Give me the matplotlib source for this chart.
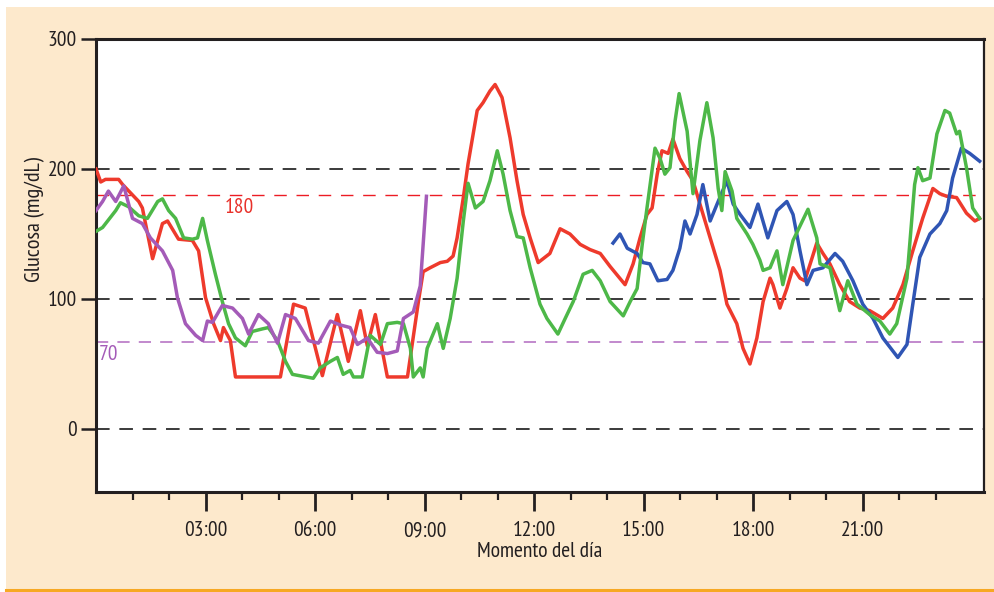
import matplotlib
matplotlib.use("Agg")
import matplotlib.pyplot as plt
from matplotlib.patches import Rectangle
from matplotlib.lines import Line2D

plt.rcParams['font.family'] = ['PT Sans Narrow', 'DejaVu Sans']

# glucose traces, hours vs mg/dL
red_t = [0.0, 0.13, 0.26, 0.62, 0.73, 1.17, 1.27, 1.55, 1.82, 1.96, 2.26, 2.64, 2.81, 3.0, 3.22,
         3.41, 3.49, 3.68, 3.82, 5.05, 5.41, 5.73, 6.20, 6.61, 6.91, 7.24, 7.43, 7.65, 7.98, 8.53,
         8.83, 8.96, 9.15, 9.43, 9.62, 9.78, 9.89, 10.06, 10.19, 10.44, 10.60, 10.79, 10.93, 11.12,
         11.34, 11.53, 11.70, 11.89, 12.11, 12.43, 12.71, 12.98, 13.26, 13.53, 13.81, 14.08, 14.49,
         14.71, 14.90, 15.09, 15.23, 15.37, 15.50, 15.67, 15.80, 15.99, 16.19, 16.35, 16.54, 16.82,
         17.09, 17.28, 17.55, 17.72, 17.91, 18.10, 18.27, 18.46, 18.54, 18.73, 18.92, 19.09, 19.28,
         19.41, 19.56, 19.74, 19.91, 20.10, 20.37, 20.64, 20.92, 21.19, 21.55, 21.82, 22.10, 22.37,
         22.64, 22.92, 23.11, 23.30, 23.57, 23.84, 24.07, 24.2]
red_v = [200, 190, 192, 192, 188, 175, 170, 131, 158, 160, 146, 145, 137, 101, 81,
         68, 78, 68, 40, 40, 96, 93, 41, 88, 52, 91, 64, 88, 40, 40,
         98, 121, 124, 128, 129, 133, 147, 178, 204, 245, 251, 260, 265, 255,
         224, 191, 165, 147, 128, 135, 154, 150, 142, 138, 135, 125, 111,
         127, 147, 165, 170, 196, 214, 212, 223, 208, 198, 191, 173, 147,
         122, 96, 81, 62, 50, 70, 98, 116, 111, 93, 108, 124, 116,
         114, 127, 143, 135, 127, 111, 98, 93, 91, 85, 93, 111, 137,
         162, 185, 181, 179, 178, 166, 160, 162]

green_t = [0.0, 0.18, 0.54, 0.67, 0.89, 1.17, 1.41, 1.69, 1.82, 1.99, 2.18, 2.40, 2.64, 2.78, 2.92,
           3.05, 3.27, 3.46, 3.63, 3.82, 4.09, 4.28, 4.56, 4.72, 4.97, 5.19, 5.38, 5.95, 6.14, 6.42,
           6.61, 6.77, 6.96, 7.05, 7.29, 7.51, 7.79, 7.98, 8.25, 8.42, 8.61, 8.69, 8.88, 8.96, 9.07,
           9.35, 9.51, 9.70, 9.89, 10.06, 10.19, 10.39, 10.60, 10.79, 10.99, 11.15, 11.34, 11.53,
           11.70, 11.89, 12.16, 12.35, 12.65, 12.85, 13.07, 13.34, 13.59, 13.81, 14.08, 14.44, 14.63,
           14.82, 14.96, 15.09, 15.31, 15.45, 15.58, 15.72, 15.86, 15.97, 16.19, 16.35, 16.54, 16.73,
           16.90, 17.04, 17.14, 17.23, 17.42, 17.55, 17.83, 17.99, 18.18, 18.27, 18.46, 18.65, 18.81,
           19.09, 19.50, 19.74, 19.83, 20.10, 20.37, 20.59, 20.84, 21.19, 21.47, 21.74, 21.93, 22.21,
           22.42, 22.51, 22.64, 22.84, 23.03, 23.25, 23.38, 23.57, 23.65, 23.84, 24.01, 24.2]
green_v = [152, 155, 168, 174, 171, 164, 162, 175, 177, 168, 162, 147, 146, 147, 162,
           145, 119, 98, 81, 70, 64, 75, 77, 78, 68, 52, 42, 39, 47, 52,
           55, 42, 45, 40, 40, 72, 65, 81, 82, 81, 62, 40, 47, 40, 62,
           81, 62, 85, 116, 160, 189, 170, 175, 191, 214, 196, 168, 148,
           147, 124, 96, 85, 73, 85, 98, 119, 122, 114, 98, 87, 98,
           108, 142, 170, 216, 208, 196, 201, 237, 258, 229, 181, 222, 251,
           224, 185, 168, 198, 183, 162, 150, 142, 130, 122, 124, 137, 111,
           145, 169, 147, 127, 124, 91, 114, 96, 88, 83, 73, 81, 116,
           188, 201, 191, 193, 227, 245, 243, 227, 229, 201, 170, 162]

purple_t = [0.0, 0.18, 0.34, 0.54, 0.76, 1.0, 1.27, 1.49, 1.82, 2.10, 2.23, 2.45, 2.73, 2.92, 3.05,
            3.19, 3.46, 3.74, 4.01, 4.18, 4.45, 4.72, 4.97, 5.19, 5.46, 5.82, 6.09, 6.42, 6.69,
            6.96, 7.16, 7.43, 7.70, 7.98, 8.25, 8.42, 8.69, 8.88, 8.96, 9.05]
purple_v = [168, 175, 183, 175, 187, 162, 158, 147, 137, 122, 101, 81, 72, 68, 83,
            82, 95, 93, 85, 73, 88, 81, 66, 88, 85, 68, 66, 83, 80,
            78, 65, 70, 59, 58, 60, 85, 90, 110, 142, 179]

blue_t = [14.16, 14.35, 14.55, 14.82, 14.98, 15.17, 15.39, 15.64, 15.80, 15.99, 16.13, 16.27, 16.46,
          16.62, 16.82, 17.01, 17.28, 17.45, 17.64, 17.91, 18.13, 18.40, 18.65, 18.92, 19.09, 19.28,
          19.47, 19.64, 19.91, 20.24, 20.45, 20.73, 21.00, 21.28, 21.55, 21.96, 22.21, 22.37, 22.56,
          22.84, 23.11, 23.30, 23.46, 23.70, 23.93, 24.2]
blue_v = [143, 150, 139, 135, 128, 127, 114, 115, 122, 139, 160, 150, 165,
          188, 160, 173, 191, 173, 165, 155, 173, 147, 168, 175, 165, 137,
          111, 122, 124, 135, 129, 114, 96, 85, 70, 55, 65, 96, 132,
          150, 158, 168, 193, 216, 212, 206]

ref_lines = [0, 100, 200]
hi_limit, lo_limit = 180, 67
x_ticks = [3, 6, 9, 12, 15, 18, 21]
x_labels = ['03:00', '06:00', '09:00', '12:00', '15:00', '18:00', '21:00']

W, H = 994, 592
fs = 15.5
fig = plt.figure(figsize=(W / 100, H / 100), dpi=100)
fig.patch.set_facecolor('#fde9cc')
# white margins and orange rule of the box
fig.patches.append(Rectangle((0, 1 - 7 / H), 1, 7 / H, transform=fig.transFigure,
                             facecolor='white', edgecolor='none', zorder=0))
fig.patches.append(Rectangle((0, 0), 6 / W, 1, transform=fig.transFigure,
                             facecolor='white', edgecolor='none', zorder=0))
fig.lines.append(Line2D([6 / W, 1], [1 - 590 / H] * 2, transform=fig.transFigure,
                        color='#f7a823', lw=2.2))

ax = fig.add_axes([96 / W, (H - 492) / H, (984 - 96) / W, (492 - 39) / H])
ax.set_facecolor('white')

for y in ref_lines:
    ax.axhline(y, color='#3a3a3a', lw=1.4, dashes=(7, 5), zorder=1)
ax.axhline(hi_limit, color='#ec1c24', lw=1.0, dashes=(9, 7), zorder=1)
ax.axhline(lo_limit, color='#b169c0', lw=1.1, dashes=(8, 6), zorder=1)

lw = 2.5
ax.plot(red_t, red_v, color='#ee3a2c', lw=lw, zorder=3)
ax.plot(green_t, green_v, color='#4db848', lw=lw, zorder=4)
ax.plot(purple_t, purple_v, color='#a45bb8', lw=lw, zorder=5)
ax.plot(blue_t, blue_v, color='#2f55b4', lw=lw, zorder=3)

ax.text(3.92, 170, '180', color='#e8312a', fontsize=fs, ha='center', va='center')
ax.text(0.35, 57, '70', color='#a45bb8', fontsize=fs, ha='center', va='center')

ax.set_xlim(0, 24.32)
ax.set_ylim(-48.5, 300)
ax.set_yticks([0, 100, 200, 300])
ax.set_xticks(x_ticks)
ax.set_xticklabels(x_labels)
ax.set_xticks([h for h in range(1, 24) if h % 3], minor=True)

for side in ['left', 'bottom', 'top']:
    ax.spines[side].set_linewidth(2.2)
ax.spines['right'].set_linewidth(1.6)
for s in ax.spines.values():
    s.set_color('#231f20')

ax.tick_params(axis='y', length=11, width=1.8, pad=3, labelsize=fs,
               color='#231f20', labelcolor='#231f20')
ax.tick_params(axis='x', which='major', length=14, width=2, pad=7, labelsize=fs,
               color='#231f20', labelcolor='#231f20')
ax.tick_params(axis='x', which='minor', length=6, width=1.6, color='#231f20')
ax.tick_params(axis='x', top=False)

ax.set_xlabel('Momento del día', fontsize=fs, labelpad=1, color='#231f20')
fig.text(35 / W, 1 - 220 / H, 'Glucosa (mg/dL)', rotation=90, fontsize=16,
         ha='center', va='center', color='#231f20')

fig.savefig('out.png', dpi=100, facecolor=fig.get_facecolor())
